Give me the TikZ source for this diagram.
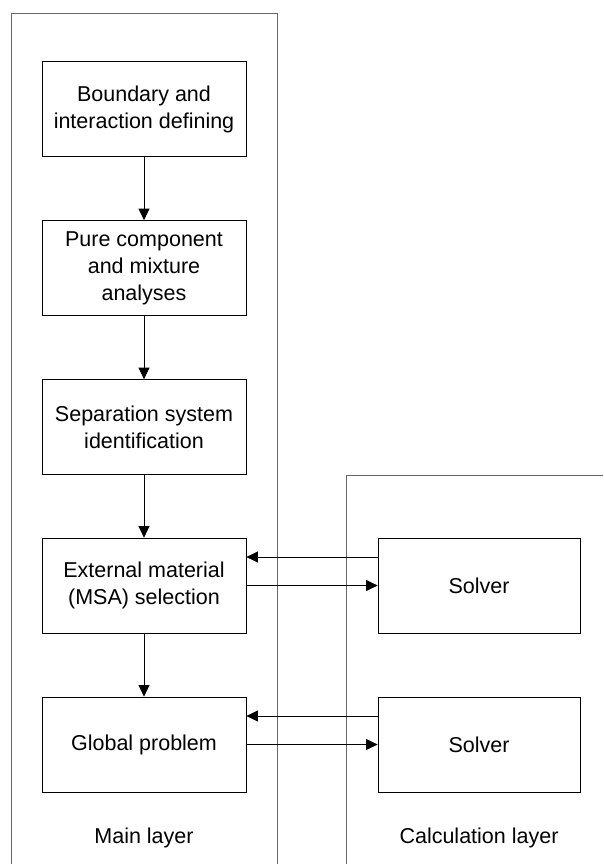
\documentclass[tikz,border=0pt]{standalone}
\usepackage{fontspec}
\setmainfont{Liberation Sans}
\usetikzlibrary{arrows.meta}
\begin{document}
\begin{tikzpicture}[x=1pt,y=-1pt,
  stepbox/.style={draw=black,line width=0.8pt,minimum width=204pt,minimum height=95pt,
    align=center,inner sep=2pt,font=\fontsize{21.5}{27}\selectfont},
  lane/.style={draw=black!60,line width=0.9pt},
  flow/.style={draw=black,line width=0.8pt,-{Triangle[length=11.5pt,width=11pt]}},
  lanelabel/.style={font=\fontsize{21.5}{27}\selectfont}]
\useasboundingbox (0,0) rectangle (603,864);

% lanes
\draw[lane] (11,864) -- (11,13) -- (277,13) -- (277,864);
\draw[lane] (346,864) -- (346,475) -- (603,475);

% main layer steps
\node[stepbox] (b1) at (144,109) {Boundary and\\interaction defining};
\node[stepbox] (b2) at (144,268) {Pure component\\and mixture\\analyses};
\node[stepbox] (b3) at (144,427) {Separation system\\identification};
\node[stepbox] (b4) at (144,585.5) {External material\\(MSA) selection};
\node[stepbox] (b5) at (144,744.5) {Global problem};

% calculation layer
\node[stepbox,minimum width=202pt] (s1) at (479,585.5) {Solver};
\node[stepbox,minimum width=202pt] (s2) at (479,744.5) {Solver};

% vertical flow
\draw[flow] (b1) -- (b2);
\draw[flow] (b2) -- (b3);
\draw[flow] (b3) -- (b4);
\draw[flow] (b4) -- (b5);

% exchange with solvers
\draw[flow] ([yshift=28.5pt]s1.west) -- ([yshift=28.5pt]b4.east);
\draw[flow] (b4.east) -- (s1.west);
\draw[flow] ([yshift=28.5pt]s2.west) -- ([yshift=28.5pt]b5.east);
\draw[flow] (b5.east) -- (s2.west);

% lane titles
\node[lanelabel] (l1) at (144,838) {Main layer};
\node[lanelabel] (l2) at (479,838) {Calculation layer};
\end{tikzpicture}
\end{document}
